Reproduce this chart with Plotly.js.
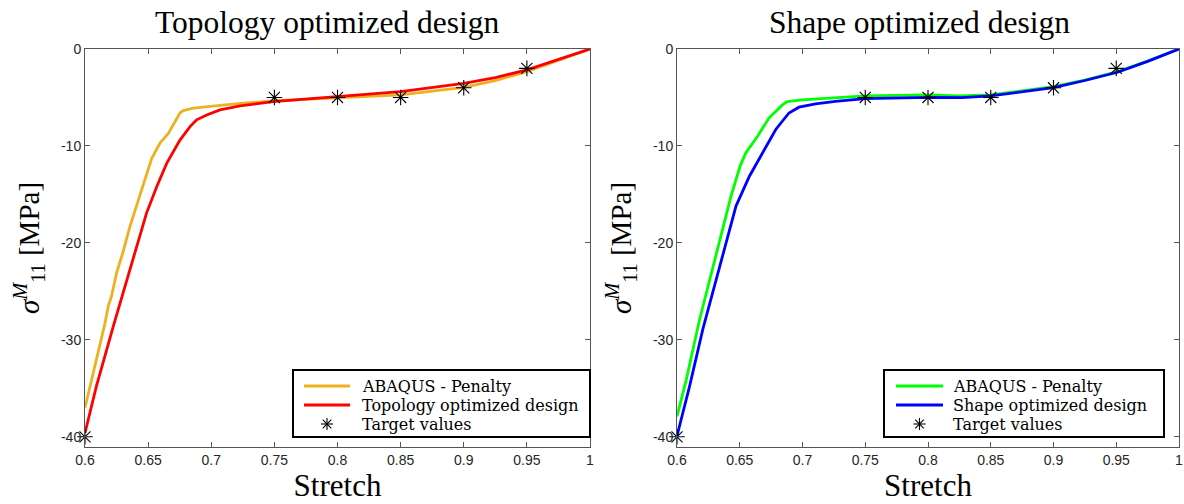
<!DOCTYPE html>
<html>
<head>
<meta charset="utf-8">
<script src="https://cdn.plot.ly/plotly-3.0.1.min.js"></script>
<style>html,body{margin:0;padding:0;background:#fff;}#chart{width:1184px;height:504px;}</style>
</head>
<body>
<div id="chart"></div>
<script>
// ---- data ----
const topoPenaltyX = [0.6, 0.6066, 0.6158, 0.6185, 0.621, 0.625, 0.630, 0.6356, 0.6422, 0.6488, 0.6528, 0.6594, 0.666, 0.6752, 0.6779, 0.6858, 0.7017, 0.7228, 0.749, 0.799, 0.850, 0.900, 0.925, 0.950, 0.975, 1.0];
const topoPenaltyY = [-37.0, -33.4, -28.3, -26.5, -25.5, -23.1, -21.0, -18.3, -15.6, -12.8, -11.3, -9.7, -8.7, -6.6, -6.35, -6.1, -5.87, -5.6, -5.36, -5.08, -4.74, -3.95, -3.26, -2.33, -1.2, 0];
const topoDesignX = [0.6, 0.609, 0.6224, 0.6356, 0.6488, 0.6568, 0.6647, 0.6752, 0.6832, 0.6884, 0.6964, 0.7069, 0.7228, 0.749, 0.799, 0.850, 0.900, 0.925, 0.950, 0.975, 1.0];
const topoDesignY = [-39.6, -34.8, -28.6, -22.8, -16.9, -14.2, -11.8, -9.4, -8.0, -7.3, -6.8, -6.28, -5.87, -5.43, -4.91, -4.40, -3.54, -2.95, -2.16, -1.1, 0];
const shapePenaltyX = [0.6, 0.6074, 0.618, 0.6259, 0.6338, 0.643, 0.6502, 0.6549, 0.6642, 0.6734, 0.684, 0.6879, 0.6998, 0.7262, 0.750, 0.800, 0.824, 0.850, 0.900, 0.925, 0.951, 0.975, 1.0];
const shapePenaltyY = [-37.9, -34.1, -27.9, -23.8, -19.7, -15.2, -12.1, -10.7, -9.0, -7.1, -5.77, -5.43, -5.25, -5.05, -4.84, -4.74, -4.84, -4.74, -3.88, -3.2, -2.33, -1.25, 0];
const shapeDesignX = [0.6, 0.61, 0.6206, 0.6338, 0.647, 0.6576, 0.6681, 0.6787, 0.6892, 0.6972, 0.7104, 0.7262, 0.750, 0.800, 0.827, 0.850, 0.900, 0.925, 0.951, 0.975, 1.0];
const shapeDesignY = [-39.9, -34.8, -28.9, -22.4, -16.2, -13.15, -10.7, -8.3, -6.6, -6.0, -5.67, -5.4, -5.12, -4.98, -5.01, -4.84, -3.98, -3.25, -2.4, -1.28, 0];
const targetX = [0.6, 0.75, 0.8, 0.85, 0.9, 0.95];
const targetY = [-40, -5, -5, -5, -4, -2];
const xTickVals = [0.6, 0.65, 0.7, 0.75, 0.8, 0.85, 0.9, 0.95, 1];
const xTickText = ['0.6', '0.65', '0.7', '0.75', '0.8', '0.85', '0.9', '0.95', '1'];
const yTickVals = [-40, -30, -20, -10, 0];
const yTickText = ['-40', '-30', '-20', '-10', '0'];
const titles = ['Topology optimized design', 'Shape optimized design'];
const legendNamesLeft = ['ABAQUS - Penalty', 'Topology optimized design', 'Target values'];
const legendNamesRight = ['ABAQUS - Penalty', 'Shape optimized design', 'Target values'];
const colors = {topoPenalty: '#EDB120', topoDesign: '#FF0000', shapePenalty: '#00FF00', shapeDesign: '#0000FF'};

// ---- styles ----
const serif = 'Liberation Serif, Times New Roman, serif';
const legendSerif = 'DejaVu Serif, Liberation Serif, serif';
const sans = 'Liberation Sans, Arial, sans-serif';
const lw = 2.8;
const W = 1184, H = 504;
const M = {l: 85, r: 5, t: 49, b: 57};
const PW = W - M.l - M.r, PH = H - M.t - M.b;
const px = v => (v - M.l) / PW;       // pixel x -> paper x
const py = v => (H - M.b - v) / PH;   // pixel y -> paper y

const starMarker = {symbol: 'asterisk-open', size: 13, color: '#000', line: {color: '#000', width: 1.1}};
const traces = [
  {x: topoPenaltyX, y: topoPenaltyY, mode: 'lines', name: legendNamesLeft[0], line: {color: colors.topoPenalty, width: lw}, xaxis: 'x', yaxis: 'y'},
  {x: topoDesignX, y: topoDesignY, mode: 'lines', name: legendNamesLeft[1], line: {color: colors.topoDesign, width: lw}, xaxis: 'x', yaxis: 'y'},
  {x: targetX, y: targetY, mode: 'markers', name: legendNamesLeft[2], marker: starMarker, xaxis: 'x', yaxis: 'y', cliponaxis: false},
  {x: shapePenaltyX, y: shapePenaltyY, mode: 'lines', name: legendNamesRight[0], line: {color: colors.shapePenalty, width: lw}, xaxis: 'x2', yaxis: 'y2'},
  {x: shapeDesignX, y: shapeDesignY, mode: 'lines', name: legendNamesRight[1], line: {color: colors.shapeDesign, width: lw}, xaxis: 'x2', yaxis: 'y2'},
  {x: targetX, y: targetY, mode: 'markers', name: legendNamesRight[2], marker: starMarker, xaxis: 'x2', yaxis: 'y2', cliponaxis: false}
];

function xax(domain, anchor) {
  return {
    domain: domain, anchor: anchor, range: [0.6, 1],
    tickvals: xTickVals, ticktext: xTickText,
    ticks: 'inside', ticklen: 5, tickcolor: '#555', tickwidth: 1,
    showline: true, linecolor: '#555', linewidth: 1, mirror: 'ticks',
    showgrid: false, zeroline: false, ticklabeloverflow: 'allow',
    tickfont: {family: sans, size: 14, color: '#262626'},
    title: {text: 'Stretch', font: {family: serif, size: 31, color: '#000'}, standoff: 0}
  };
}
function yax(anchor) {
  return {
    anchor: anchor, domain: [0, 1], range: [-41.05, 0],
    tickvals: yTickVals, ticktext: yTickText,
    ticks: 'inside', ticklen: 5, tickcolor: '#555', tickwidth: 1,
    showline: true, linecolor: '#555', linewidth: 1, mirror: 'ticks',
    showgrid: false, zeroline: false, ticklabeloverflow: 'allow',
    tickfont: {family: sans, size: 14, color: '#262626'},
    title: {text: '<i>σ</i><sup><i>M</i></sup><sub>11</sub> [MPa]', font: {family: serif, size: 29, color: '#000'}, standoff: 12}
  };
}

// ---- legend boxes (drawn as shapes + text) ----
const shapes = [];
const annotations = [];
function addLegend(box, sampleX0, sampleX1, textX, rows, names, lineColors) {
  shapes.push({type: 'rect', xref: 'paper', yref: 'paper', x0: px(box[0]), x1: px(box[1]), y0: py(box[3]), y1: py(box[2]),
               line: {color: '#000', width: 2}, fillcolor: '#fff', layer: 'above'});
  for (let i = 0; i < 2; i++) {
    shapes.push({type: 'line', xref: 'paper', yref: 'paper', x0: px(sampleX0), x1: px(sampleX1), y0: py(rows[i]), y1: py(rows[i]),
                 line: {color: lineColors[i], width: lw}, layer: 'above'});
  }
  const cx = px((sampleX0 + sampleX1) / 2), cy = py(rows[2]);
  const r = 6, d = 4.3;
  [[-r, 0, r, 0], [0, -r, 0, r], [-d, -d, d, d], [-d, d, d, -d]].forEach(s => {
    shapes.push({type: 'line', xref: 'paper', yref: 'paper', xsizemode: 'pixel', ysizemode: 'pixel', xanchor: cx, yanchor: cy,
                 x0: s[0], x1: s[2], y0: s[1], y1: s[3], line: {color: '#000', width: 1.1}, layer: 'above'});
  });
  names.forEach((n, i) => {
    annotations.push({text: n, xref: 'paper', yref: 'paper', x: px(textX), y: py(rows[i]), xanchor: 'left', yanchor: 'middle',
                      borderpad: 0, showarrow: false, font: {family: legendSerif, size: 16, color: '#000'}});
  });
}
addLegend([293, 590, 370, 437], 304, 350, 361, [386, 405, 424], legendNamesLeft, [colors.topoPenalty, colors.topoDesign]);
addLegend([884, 1164, 370, 437], 896, 943, 952, [386, 405, 424], legendNamesRight, [colors.shapePenalty, colors.shapeDesign]);

const leftDomain = [0, px(590)];
const rightDomain = [px(677), 1];
annotations.push({text: titles[0], xref: 'paper', yref: 'paper', x: px(327), y: 1, yshift: 27, xanchor: 'center', yanchor: 'middle', showarrow: false, font: {family: serif, size: 31.5, color: '#000'}});
annotations.push({text: titles[1], xref: 'paper', yref: 'paper', x: px(919), y: 1, yshift: 27, xanchor: 'center', yanchor: 'middle', showarrow: false, font: {family: serif, size: 31.5, color: '#000'}});

const layout = {
  width: W, height: H,
  margin: M,
  font: {family: serif, color: '#000'},
  paper_bgcolor: '#fff', plot_bgcolor: '#fff',
  xaxis: xax(leftDomain, 'y'),
  yaxis: yax('x'),
  xaxis2: xax(rightDomain, 'y2'),
  yaxis2: yax('x2'),
  shapes: shapes,
  annotations: annotations,
  showlegend: false
};

Plotly.newPlot('chart', traces, layout, {displayModeBar: false, staticPlot: true});
</script>
</body>
</html>
